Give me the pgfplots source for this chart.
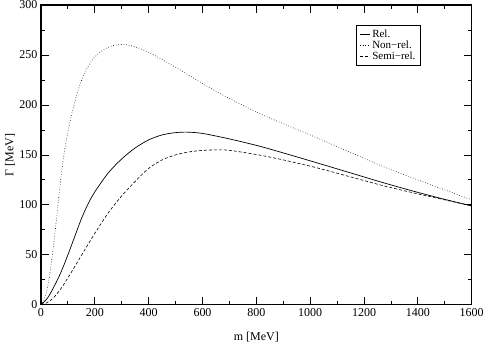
\documentclass[border=0pt]{standalone}
\usepackage{fontspec}
\setmainfont{Liberation Serif}
\usepackage{pgfplots}
\pgfplotsset{compat=1.18}

\begin{document}
\begin{tikzpicture}
\begin{axis}[
    scale only axis,
    width=431pt, height=300pt,
    at={(0,0)}, anchor=south west,
    xmin=0, xmax=1600, ymin=0, ymax=300,
    xtick distance=200, ytick distance=50,
    minor x tick num=1, minor y tick num=1,
    tick align=inside,
    major tick length=8pt, minor tick length=4pt,
    tick style={black, line width=0.8pt},
    axis line style={line width=1.2pt},
    /pgf/number format/assume math mode=true,
    /pgf/number format/1000 sep={},
    ticklabel style={font=\fontsize{12}{14}\selectfont},
    label style={font=\fontsize{12}{14}\selectfont},
    xlabel={m [MeV]},
    ylabel={Γ [MeV]},
    xlabel style={at={(axis description cs:0.5,-0.107)}, anchor=center},
    ylabel style={at={(axis description cs:-0.072,0.5)}, anchor=center},
    legend style={at={(0.8816,0.932)}, anchor=north east,
        font=\fontsize{11}{12}\selectfont, draw=black, line width=0.6pt,
        row sep=-2pt, inner xsep=3pt},
    legend cell align=left,
    legend image code/.code={\draw[#1, line width=0.6pt] (0pt,0pt) -- (10pt,0pt);},
]
\coordinate (ll) at (rel axis cs:0,0);
\coordinate (ur) at (rel axis cs:1,1);

% Rel.
\addplot[black, line width=0.7pt, smooth] coordinates {
(0,0) (25,7) (50,19) (75,33) (100,50) (125,68) (150,86) (175,101) (200,113)
(250,132) (300,146) (350,157) (400,165) (450,170) (500,172.3) (540,172.8)
(600,171.5) (700,166) (808,159) (900,152) (1026,142) (1150,132) (1274,122)
(1400,112.5) (1500,105.5) (1600,99)
};
\addlegendentry{Rel.}

% Non-rel.
\addplot[black, line width=0.6pt, dotted, smooth] coordinates {
(0,0) (10,4) (20,12) (30,26) (40,45) (50,67) (60,92) (70,117) (80,140)
(90,158) (100,173) (110,186) (120,197) (135,212) (150,224) (175,238.5)
(200,248) (237,256) (270,259.5) (300,260.5) (340,259) (405,252) (517,235)
(641,215) (808,192) (1026,167) (1150,152.5) (1274,138) (1400,125) (1500,115) (1600,105)
};
\addlegendentry{Non−rel.}

% Semi-rel.
\addplot[black, line width=0.6pt, dash pattern=on 3pt off 2pt, smooth] coordinates {
(0,0) (25,2.5) (50,8) (75,16.5) (100,27) (125,38) (150,49.3) (175,60.5)
(200,71.5) (250,92) (300,109) (350,123.5) (400,136.5) (450,145) (500,150)
(550,153) (600,154.5) (650,155) (700,154.6) (808,150) (900,145) (1026,137)
(1150,128) (1274,119) (1400,111) (1500,105) (1600,99)
};
\addlegendentry{Semi−rel.}
\end{axis}
\pgfresetboundingbox
\path ([shift={(-41pt,-41pt)}]ll) rectangle ([shift={(13.3pt,5pt)}]ur);
\end{tikzpicture}
\end{document}
